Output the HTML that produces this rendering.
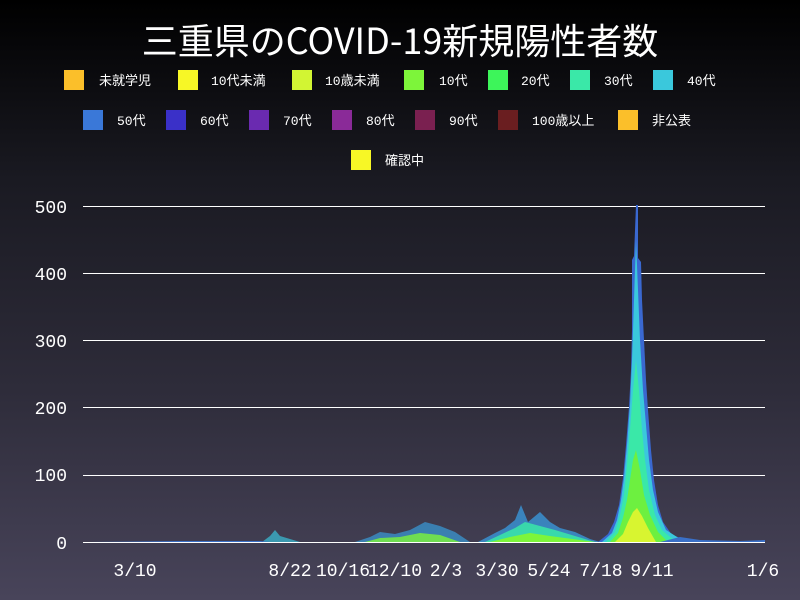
<!DOCTYPE html>
<html><head><meta charset="utf-8"><style>
body{margin:0;width:800px;height:600px;overflow:hidden;background:linear-gradient(#000 0%,#1a1a22 30%,#2e2c3a 65%,#48445a 100%);font-family:"Liberation Mono","Noto Sans CJK JP",monospace;color:#fff}
</style></head><body>
<svg width="800" height="600" xmlns="http://www.w3.org/2000/svg" style="position:absolute;left:0;top:0">
<text x="400" y="54" text-anchor="middle" font-size="36" fill="#fff" font-family="Noto Sans CJK JP,sans-serif">三重県のCOVID-19新規陽性者数</text>
<g font-size="13" fill="#fff" font-family="Liberation Mono,Noto Sans CJK JP,monospace">
<rect x="64" y="70" width="20" height="20" fill="#fbbf2a"/><text x="99" y="85">未就学児</text>
<rect x="178" y="70" width="20" height="20" fill="#f7f726"/><text x="211" y="85">10代未満</text>
<rect x="292" y="70" width="20" height="20" fill="#d2f533"/><text x="325" y="85">10歳未満</text>
<rect x="404" y="70" width="20" height="20" fill="#7df53a"/><text x="439" y="85">10代</text>
<rect x="488" y="70" width="20" height="20" fill="#3df55a"/><text x="521" y="85">20代</text>
<rect x="570" y="70" width="20" height="20" fill="#3ae8a8"/><text x="604" y="85">30代</text>
<rect x="653" y="70" width="20" height="20" fill="#3ac8dc"/><text x="687" y="85">40代</text>
<rect x="83" y="110" width="20" height="20" fill="#3a78d8"/><text x="117" y="125">50代</text>
<rect x="166" y="110" width="20" height="20" fill="#3a30c8"/><text x="200" y="125">60代</text>
<rect x="249" y="110" width="20" height="20" fill="#6a2ab0"/><text x="283" y="125">70代</text>
<rect x="332" y="110" width="20" height="20" fill="#8a2a98"/><text x="366" y="125">80代</text>
<rect x="415" y="110" width="20" height="20" fill="#7a2050"/><text x="449" y="125">90代</text>
<rect x="498" y="110" width="20" height="20" fill="#6a1e20"/><text x="532" y="125">100歳以上</text>
<rect x="618" y="110" width="20" height="20" fill="#fbbf2a"/><text x="652" y="125">非公表</text>
<rect x="351" y="150" width="20" height="20" fill="#f7f726"/><text x="385" y="165">確認中</text>
</g>
<g stroke="#fff" stroke-width="1">
<line x1="83" y1="206.5" x2="765" y2="206.5"/><line x1="83" y1="273.5" x2="765" y2="273.5"/>
<line x1="83" y1="340.5" x2="765" y2="340.5"/><line x1="83" y1="407.5" x2="765" y2="407.5"/>
<line x1="83" y1="475.5" x2="765" y2="475.5"/><line x1="83" y1="542.5" x2="765" y2="542.5"/>
</g>
<g font-size="18" fill="#fff" text-anchor="end">
<text x="67" y="213">500</text><text x="67" y="280">400</text><text x="67" y="347">300</text>
<text x="67" y="414">200</text><text x="67" y="481">100</text><text x="67" y="549">0</text>
</g>
<g font-size="18" fill="#fff" text-anchor="middle">
<text x="135" y="576">3/10</text><text x="290" y="576">8/22</text><text x="343" y="576">10/16</text>
<text x="395" y="576">12/10</text><text x="446" y="576">2/3</text><text x="497" y="576">3/30</text>
<text x="549" y="576">5/24</text><text x="601" y="576">7/18</text><text x="652" y="576">9/11</text>
<text x="763" y="576">1/6</text>
</g>
<!-- small waves -->
<polygon fill="#3ab0c8" opacity="0.8" points="262,542 270,536 275,530 280,536 290,539 300,542"/>
<polygon fill="#3a90c8" opacity="0.8" points="355,542 370,537 380,532 395,534 410,530 425,522 440,526 455,532 470,542"/>
<polygon fill="#7df53a" opacity="0.8" points="365,542 380,538 400,537 420,533 440,535 460,542"/>
<polygon fill="#3a90d0" opacity="0.85" points="478,542 495,533 505,528 515,520 521,505 528,522 540,512 550,522 560,528 575,532 590,539 600,542"/>
<polygon fill="#3ae8a8" opacity="0.85" points="485,542 500,535 515,528 525,522 540,526 555,530 575,536 595,542"/>
<polygon fill="#7df53a" points="490,542 510,537 530,533 550,536 580,540 595,542"/>
<!-- peak -->
<polygon fill="#3a68d0" points="598,542 608,534 614,522 619,505 623,478 626,445 629,407 631,370 632,330 632,260 634,256 636,205 638,205 638,258 641,262 642,300 644,340 646,380 648,410 651,450 654,480 658,505 663,522 672,535 692,542"/>
<polygon fill="#3ac8dc" points="602,542 612,533 617,520 621,500 624,478 627,445 630,405 632,360 634,300 636,240 638,290 640,340 643,390 646,425 649,460 653,490 658,512 666,530 685,542"/>
<polygon fill="#3ae8a8" points="606,542 615,532 620,515 624,495 627,465 630,430 633,390 636,360 639,390 642,430 645,460 649,490 655,515 662,530 676,542"/>
<polygon fill="#6df040" points="610,542 618,533 623,518 627,500 630,480 633,460 636,450 640,470 644,495 650,515 658,532 668,542"/>
<polygon fill="#d8f530" points="615,542 623,534 628,522 633,512 637,508 642,516 648,528 656,542"/>
<polygon fill="#3a70c8" points="660,542 680,537 700,540 740,541 765,540 765,542"/>
<polygon fill="#3a70c8" points="90,542 180,541 260,541 270,542"/>
</svg>
</body></html>
